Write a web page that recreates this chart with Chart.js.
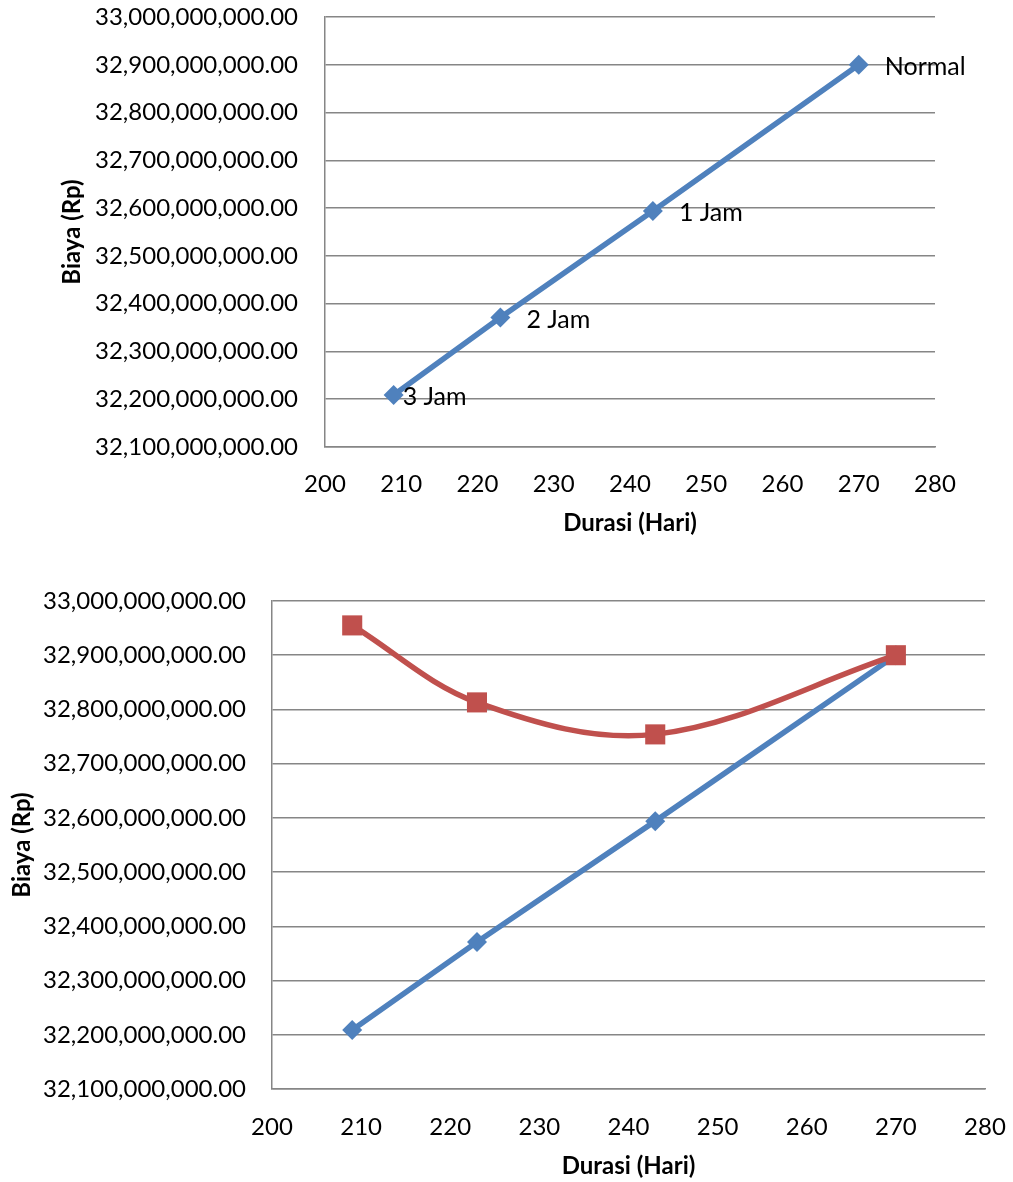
<!DOCTYPE html>
<html>
<head>
<meta charset="utf-8">
<script src="https://cdn.jsdelivr.net/npm/chart.js@4.4.1/dist/chart.umd.min.js"></script>
<style>
  html, body { margin: 0; padding: 0; background: #ffffff; }
  #wrap { position: relative; width: 1013px; height: 1182px; }
  canvas { position: absolute; left: 0; }
</style>
</head>
<body>
<div id="wrap">
  <canvas id="chartCrash" width="1013" height="560" style="top:0px"></canvas>
  <canvas id="chartTotal" width="1013" height="622" style="top:560px"></canvas>
</div>
<script>
// Durasi proyek (hari) untuk tiap skenario lembur
const durasi = [209, 223, 243, 270];
const skenario = ['3 Jam', '2 Jam', '1 Jam', 'Normal'];
// Biaya proyek setelah crashing (Rp)
const biayaCrashing = [32209000000, 32371000000, 32594000000, 32900000000];
// Biaya total proyek (Rp)
const biayaTotal = [32955000000, 32813000000, 32754000000, 32900000000];

// Axis ranges
const durasiMin = 200, durasiMax = 280, durasiStep = 10;
const biayaMin = 32100000000, biayaMax = 33000000000, biayaStep = 100000000;

const FONT = 'Lato';
const BLUE = '#4F81BD';
const RED = '#C0504D';
const GRID = '#868686';
const CLEAR = 'rgba(0,0,0,0)';

const toPoints = (xs, ys) => xs.map((x, i) => ({ x: x, y: ys[i] }));
const rupiah = v => Number(v).toLocaleString('en-US', { minimumFractionDigits: 2, maximumFractionDigits: 2 });

// The gaps between tick labels and the axes are invisible tick marks,
// so they do not widen the chart's outer padding.
function scalesFor(cfg) {
  return {
    x: {
      type: 'linear',
      min: durasiMin, max: durasiMax,
      afterFit: s => { s.height = cfg.xHeight; },
      grid: { display: true, drawOnChartArea: false, drawTicks: true, tickLength: cfg.xGap, tickColor: CLEAR },
      border: { display: true, color: GRID, width: 1.5 },
      ticks: {
        stepSize: durasiStep, color: '#000', padding: 0,
        maxRotation: 0, autoSkip: false,
        font: { family: FONT, size: 24 }
      },
      title: {
        display: true, text: 'Durasi (Hari)', color: '#000',
        font: { family: FONT, size: 24, weight: 'bold' },
        padding: { top: 0, bottom: cfg.xTitlePad }
      }
    },
    y: {
      type: 'linear',
      min: biayaMin, max: biayaMax,
      afterFit: s => { s.width = cfg.yWidth; },
      grid: { color: GRID, lineWidth: 1.5, drawTicks: true, tickLength: cfg.yGap, tickColor: CLEAR },
      border: { display: true, color: GRID, width: 1.5 },
      ticks: {
        stepSize: biayaStep, color: '#000', padding: 0,
        font: { family: FONT, size: 24 },
        callback: v => rupiah(v)
      },
      title: {
        display: true, text: 'Biaya (Rp)', color: '#000',
        font: { family: FONT, size: 24, weight: 'bold' },
        padding: { top: 8, bottom: 0 }
      }
    }
  };
}

// Writes the scenario name beside each point of the first dataset
const pointNames = {
  id: 'pointNames',
  afterDatasetsDraw(chart, args, opts) {
    const meta = chart.getDatasetMeta(0);
    const ctx = chart.ctx;
    ctx.save();
    ctx.font = '25px ' + FONT;
    ctx.fillStyle = '#000';
    ctx.textAlign = 'left';
    ctx.textBaseline = 'middle';
    meta.data.forEach((el, i) => {
      ctx.fillText(opts.labels[i], el.x + opts.shiftX[i], el.y + 2);
    });
    ctx.restore();
  }
};

function draw() {
  Chart.defaults.devicePixelRatio = 1;

  new Chart(document.getElementById('chartCrash'), {
    type: 'scatter',
    data: {
      datasets: [{
        data: toPoints(durasi, biayaCrashing),
        showLine: true,
        borderColor: BLUE, borderWidth: 5.5,
        pointStyle: 'rectRot', pointRadius: 10,
        pointBackgroundColor: BLUE, pointBorderColor: BLUE, pointBorderWidth: 0,
        tension: 0
      }]
    },
    options: {
      responsive: false, animation: false,
      layout: { padding: { left: 50, right: 78, top: 17, bottom: 0 } },
      plugins: {
        legend: { display: false }, tooltip: { enabled: false },
        pointNames: { labels: skenario, shiftX: [9, 26, 26, 26] }
      },
      scales: scalesFor({ xHeight: 113, xGap: 23, xTitlePad: 22, yWidth: 275, yGap: 27 })
    },
    plugins: [pointNames]
  });

  new Chart(document.getElementById('chartTotal'), {
    type: 'scatter',
    data: {
      datasets: [{
        data: toPoints(durasi, biayaTotal),
        showLine: true, order: 0,
        borderColor: RED, borderWidth: 5.5,
        pointStyle: 'rect', pointRadius: 14.2,
        pointBackgroundColor: RED, pointBorderColor: RED, pointBorderWidth: 0,
        tension: 0.35
      }, {
        data: toPoints(durasi, biayaCrashing),
        showLine: true, order: 1,
        borderColor: BLUE, borderWidth: 5.5,
        pointStyle: 'rectRot', pointRadius: 10,
        pointBackgroundColor: BLUE, pointBorderColor: BLUE, pointBorderWidth: 0,
        tension: 0
      }]
    },
    options: {
      responsive: false, animation: false,
      layout: { padding: { left: 0, right: 28, top: 41, bottom: 0 } },
      plugins: { legend: { display: false }, tooltip: { enabled: false } },
      scales: scalesFor({ xHeight: 93, xGap: 24, xTitlePad: 1, yWidth: 272, yGap: 26 })
    }
  });
}

Promise.all([
  document.fonts.load('24px ' + FONT),
  document.fonts.load('bold 24px ' + FONT)
]).then(draw, draw);
</script>
</body>
</html>
